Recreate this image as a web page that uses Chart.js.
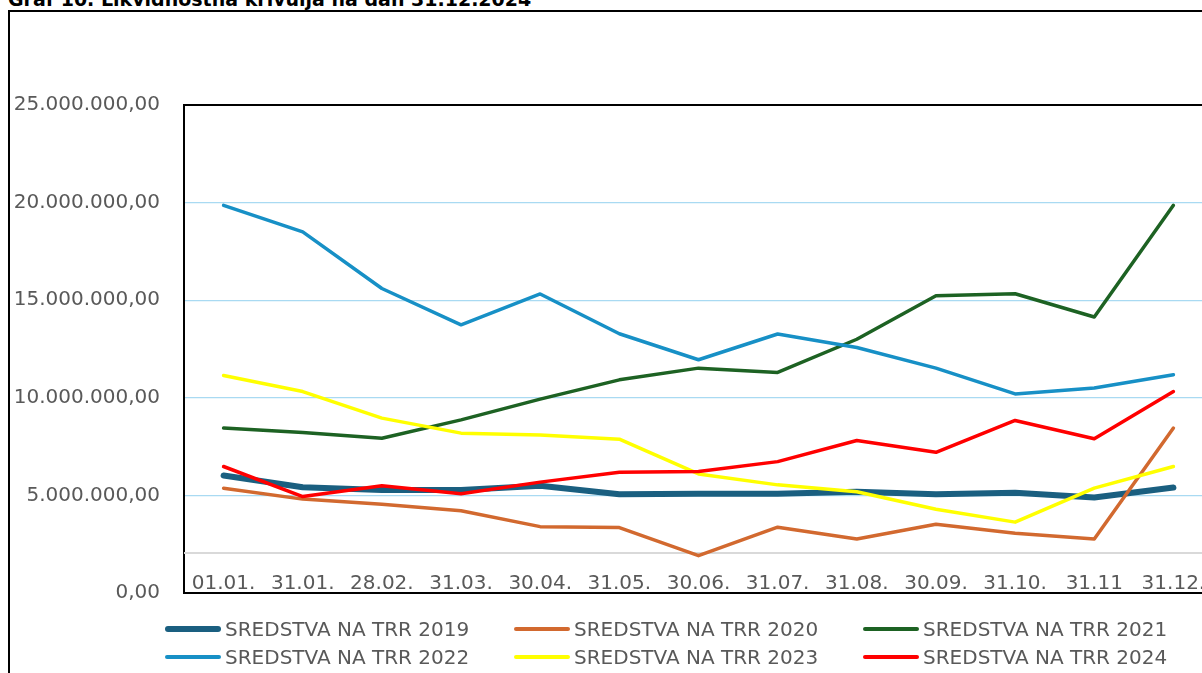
<!DOCTYPE html>
<html>
<head>
<meta charset="utf-8">
<script src="https://cdn.jsdelivr.net/npm/chart.js@4/dist/chart.umd.min.js"></script>
<style>
    html, body { margin: 0; padding: 0; background: #fff; }
    body { width: 1202px; height: 673px; overflow: hidden; position: relative; font-family: 'DejaVu Sans', sans-serif; }
    .graphTitle { position: absolute; left: 8px; top: -11px; font-size: 19px; line-height: 20px; font-weight: bold; color: #000; white-space: nowrap; }
    .chartFrame { position: absolute; left: 8px; top: 10px; width: 1400px; height: 900px; border: 2px solid #000; box-sizing: border-box; }
    #myChart { position: absolute; left: 0; top: 0; }
    .legendBox { position: absolute; left: 165px; top: 615px; width: 1100px; }
    .legendRow { display: flex; height: 28px; align-items: center; }
    .legendItem { display: flex; align-items: center; width: 349px; }
    .legendLine { width: 56px; border-radius: 4px; margin-right: 4px; }
    .legendText { font-size: 20px; color: #595959; white-space: nowrap; }
</style>
</head>
<body>
<div class="graphTitle">Graf 10. Likvidnostna krivulja na dan 31.12.2024</div>
<div class="chartFrame"></div>
<canvas id="myChart" width="1222" height="673" style="width:1222px;height:673px;"></canvas>
<div class="legendBox"></div>
<script>
const categories = ['01.01.', '31.01.', '28.02.', '31.03.', '30.04.', '31.05.', '30.06.', '31.07.', '31.08.', '30.09.', '31.10.', '31.11', '31.12.'];

const trr2019 = [6020000, 5420000, 5280000, 5280000, 5490000, 5060000, 5080000, 5080000, 5190000, 5060000, 5140000, 4890000, 5400000];
const trr2020 = [5370000, 4810000, 4550000, 4210000, 3400000, 3350000, 1910000, 3370000, 2770000, 3520000, 3060000, 2770000, 8450000];
const trr2021 = [8450000, 8220000, 7930000, 8870000, 9930000, 10920000, 11520000, 11300000, 13000000, 15230000, 15330000, 14140000, 19860000];
const trr2022 = [19860000, 18500000, 15600000, 13740000, 15320000, 13280000, 11950000, 13270000, 12580000, 11520000, 10200000, 10500000, 11180000];
const trr2023 = [11140000, 10320000, 8960000, 8190000, 8100000, 7880000, 6100000, 5540000, 5190000, 4290000, 3630000, 5370000, 6480000];
const trr2024 = [6480000, 4940000, 5490000, 5080000, 5680000, 6190000, 6220000, 6730000, 7810000, 7210000, 8840000, 7900000, 10320000];

const seriesNames = ['SREDSTVA NA TRR 2019', 'SREDSTVA NA TRR 2020', 'SREDSTVA NA TRR 2021', 'SREDSTVA NA TRR 2022', 'SREDSTVA NA TRR 2023', 'SREDSTVA NA TRR 2024'];
const seriesColors = ['#1a5f80', '#d2692f', '#1d6223', '#1790c6', '#ffff00', '#ff0000'];
const seriesWidths = [6, 3.5, 3.5, 3.5, 3.5, 3.5];

const yMin = 0;
const yMax = 25000000;
const yStep = 5000000;
// grey horizontal axis line sits a little above zero in the original
const categoryAxisCross = 2050000;

function formatAmount(value) {
    const parts = value.toFixed(2).split('.');
    const whole = parts[0].replace(/\B(?=(\d{3})+(?!\d))/g, '.');
    return whole + ',' + parts[1];
}

const allSeries = [trr2019, trr2020, trr2021, trr2022, trr2023, trr2024];
const datasets = allSeries.map((values, i) => ({
    label: seriesNames[i],
    data: values,
    borderColor: seriesColors[i],
    backgroundColor: seriesColors[i],
    borderWidth: seriesWidths[i],
    borderCapStyle: 'round',
    borderJoinStyle: 'round',
    pointRadius: 0,
    tension: 0,
    order: allSeries.length - i
}));

const crossLine = {
    id: 'crossLine',
    beforeDatasetsDraw(chart) {
        const {ctx, chartArea} = chart;
        const y = chart.scales.y.getPixelForValue(categoryAxisCross);
        ctx.save();
        ctx.strokeStyle = '#d9d9d9';
        ctx.lineWidth = 2;
        ctx.beginPath();
        ctx.moveTo(chartArea.left, y);
        ctx.lineTo(chartArea.right, y);
        ctx.stroke();
        ctx.restore();
    }
};

new Chart(document.getElementById('myChart'), {
    type: 'line',
    data: {
        labels: categories,
        datasets: datasets
    },
    options: {
        responsive: false,
        animation: false,
        layout: {
            padding: { top: 105, right: 9, bottom: 0, left: 0 }
        },
        scales: {
            x: {
                offset: true,
                grid: { display: false, drawTicks: false },
                border: { display: true, color: '#000', width: 2 },
                ticks: {
                    mirror: true,
                    padding: -3,
                    maxRotation: 0,
                    minRotation: 0,
                    autoSkip: false,
                    color: '#595959',
                    font: { family: "'DejaVu Sans', sans-serif", size: 20 }
                },
                afterFit(scale) {
                    scale.height = 80;
                }
            },
            y: {
                min: yMin,
                max: yMax,
                grid: {
                    drawTicks: false,
                    color: c => c.tick.value === yMax ? '#000' : (c.tick.value === yMin ? 'rgba(0,0,0,0)' : '#a9daf2'),
                    lineWidth: c => c.tick.value === yMax ? 2 : 1.3
                },
                border: { display: true, color: '#000', width: 2 },
                ticks: {
                    stepSize: yStep,
                    padding: 24,
                    color: '#595959',
                    font: { family: "'DejaVu Sans', sans-serif", size: 20 },
                    callback: value => formatAmount(value)
                },
                afterFit(scale) {
                    scale.width = 184;
                }
            }
        },
        plugins: {
            legend: { display: false },
            tooltip: { enabled: false }
        }
    },
    plugins: [crossLine]
});

// legend, three items per row like the original
const legendBox = document.querySelector('.legendBox');
for (let r = 0; r < 2; r++) {
    const row = document.createElement('div');
    row.className = 'legendRow';
    for (let c = 0; c < 3; c++) {
        const i = r * 3 + c;
        const item = document.createElement('div');
        item.className = 'legendItem';
        const line = document.createElement('div');
        line.className = 'legendLine';
        line.style.height = (i === 0 ? 6 : 4) + 'px';
        line.style.background = seriesColors[i];
        const text = document.createElement('span');
        text.className = 'legendText';
        text.textContent = seriesNames[i];
        item.appendChild(line);
        item.appendChild(text);
        row.appendChild(item);
    }
    legendBox.appendChild(row);
}
</script>
</body>
</html>
